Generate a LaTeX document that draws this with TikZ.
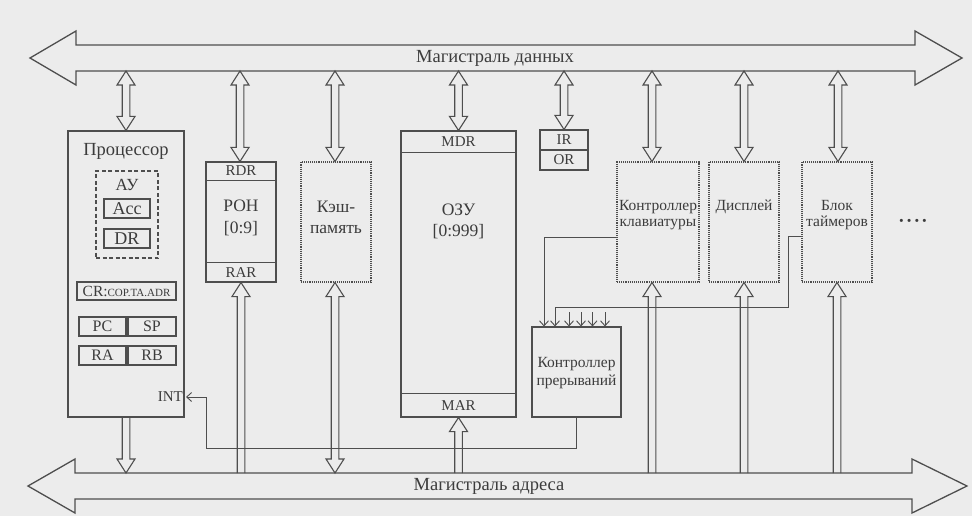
\documentclass[tikz,border=0pt]{standalone}
\usepackage{fontspec}
\setmainfont{Liberation Serif}
\usetikzlibrary{arrows.meta,calc}
\definecolor{bg}{RGB}{236,236,236}
\definecolor{ln}{RGB}{78,78,78}
\definecolor{tx}{RGB}{60,60,60}
\newcommand{\fsz}[2]{\fontsize{#1}{#2}\selectfont}
% hollow vertical arrows: #1 x-reference, #2 upper point, #3 lower point
\newcommand{\arrboth}[3]{\draw[hollow] let \p1=(#1), \p2=(#2), \p3=(#3) in
 (\x1,\y2) -- ({\x1-9pt},{\y2-14pt}) -- ({\x1-3.8pt},{\y2-14pt}) -- ({\x1-3.8pt},{\y3+14pt}) -- ({\x1-9pt},{\y3+14pt}) -- (\x1,\y3)
 -- ({\x1+9pt},{\y3+14pt}) -- ({\x1+3.8pt},{\y3+14pt}) -- ({\x1+3.8pt},{\y2-14pt}) -- ({\x1+9pt},{\y2-14pt}) -- cycle;}
\newcommand{\arrup}[3]{\draw[hollow] let \p1=(#1), \p2=(#2), \p3=(#3) in
 ({\x1-3.8pt},\y3) -- ({\x1-3.8pt},{\y2-14pt}) -- ({\x1-9pt},{\y2-14pt}) -- (\x1,\y2) -- ({\x1+9pt},{\y2-14pt}) -- ({\x1+3.8pt},{\y2-14pt}) -- ({\x1+3.8pt},\y3);}
\newcommand{\arrdown}[3]{\draw[hollow] let \p1=(#1), \p2=(#2), \p3=(#3) in
 ({\x1-3.8pt},\y2) -- ({\x1-3.8pt},{\y3+14pt}) -- ({\x1-9pt},{\y3+14pt}) -- (\x1,\y3) -- ({\x1+9pt},{\y3+14pt}) -- ({\x1+3.8pt},{\y3+14pt}) -- ({\x1+3.8pt},\y2);}
\begin{document}
\begin{tikzpicture}[x=1pt,y=-1pt,
  blk/.style={draw=ln,line width=1.1pt,inner sep=0pt,text=tx},
  dotblk/.style={blk,densely dotted},
  lbl/.style={inner sep=0pt,text=tx,align=center},
  hollow/.style={draw=ln,line width=1.1pt,line join=miter},
  bus/.style={draw=ln,line width=1.3pt,line join=miter},
  divl/.style={draw=ln,line width=1.1pt},
  intl/.style={draw=ln,line width=0.9pt,-{Straight Barb[length=5pt,width=9pt]}}]
\fill[bg] (0,0) rectangle (972,516);
\useasboundingbox (0,0) rectangle (972,516);

% buses
\draw[bus] (30,58) -- (76,31) -- (76,45) -- (915,45) -- (915,31) -- (962,58) -- (915,85) -- (915,71) -- (76,71) -- (76,85) -- cycle;
\node[lbl,font=\fsz{18.5}{20}] (dlabel) at (495,58) {Магистраль данных};
\coordinate (dbus) at (0,71);
\draw[bus] (28,486) -- (75,459) -- (75,473) -- (912,473) -- (912,459) -- (967,486) -- (912,513) -- (912,499) -- (75,499) -- (75,513) -- cycle;
\node[lbl,font=\fsz{18.5}{20}] (alabel) at (489,486) {Магистраль адреса};
\coordinate (abus) at (0,473);

% processor
\node[blk,minimum width=116pt,minimum height=286pt] (proc) at (126,274) {};
\node[lbl,font=\fsz{18.5}{20}] (proct) at (126,151) {Процессор};
\node[blk,dash pattern=on 4pt off 2.5pt,minimum width=62pt,minimum height=87pt] (au) at (127,214.5) {};
\node[lbl,font=\fsz{17}{18}] (aut) at (127,185) {АУ};
\node[blk,minimum width=46pt,minimum height=19pt,font=\fsz{18}{19}] (acc) at (127,208.5) {Acc};
\node[blk,minimum width=46pt,minimum height=19pt,font=\fsz{18}{19}] (dr) at (127,238.5) {DR};
\node[blk,minimum width=99pt,minimum height=18pt,font=\fsz{15.5}{16}] (cr) at (126.5,291) {CR:{\fsz{11}{12}COP.TA.ADR}};
\node[blk,minimum width=47pt,minimum height=19pt,font=\fsz{16}{17}] (pc) at (102.5,326.5) {PC};
\node[blk,minimum width=48pt,minimum height=19pt,font=\fsz{16}{17}] (sp) at (152,326.5) {SP};
\node[blk,minimum width=47pt,minimum height=19pt,font=\fsz{16}{17}] (ra) at (102.5,355.5) {RA};
\node[blk,minimum width=48pt,minimum height=19pt,font=\fsz{16}{17}] (rb) at (152,355.5) {RB};
\node[lbl,font=\fsz{15}{16},anchor=east,inner sep=3pt] (int) at (186,397) {INT};

% general registers
\node[blk,minimum width=70pt,minimum height=120pt] (ron) at (241,222) {};
\draw[divl] ([yshift=-19pt]ron.north west) -- ([yshift=-19pt]ron.north east);
\draw[divl] ([yshift=20pt]ron.south west) -- ([yshift=20pt]ron.south east);
\node[lbl,font=\fsz{15}{16}] (rdr) at ([yshift=-9.5pt]ron.north) {RDR};
\node[lbl,font=\fsz{15}{16}] (rar) at ([yshift=10pt]ron.south) {RAR};
\node[lbl,font=\fsz{17.5}{22}] (ront) at (241,218) {РОН\\{}[0:9]};

% cache
\node[dotblk,minimum width=70pt,minimum height=120pt] (cache) at (336,222) {};
\node[lbl,font=\fsz{17.5}{21}] (cachet) at (336,217.5) {Кэш-\\память};

% RAM
\node[blk,minimum width=115pt,minimum height=286pt] (ozu) at (458.5,274) {};
\draw[divl] ([yshift=-22pt]ozu.north west) -- ([yshift=-22pt]ozu.north east);
\draw[divl] ([yshift=24pt]ozu.south west) -- ([yshift=24pt]ozu.south east);
\node[lbl,font=\fsz{15}{16}] (mdr) at ([yshift=-11pt]ozu.north) {MDR};
\node[lbl,font=\fsz{15}{16}] (mar) at ([yshift=12pt]ozu.south) {MAR};
\node[lbl,font=\fsz{17.5}{21}] (ozut) at (458.5,221.5) {ОЗУ\\{}[0:999]};

% IR / OR
\node[blk,minimum width=48pt,minimum height=20pt,font=\fsz{15}{16}] (ir) at (564,140) {IR};
\node[blk,minimum width=48pt,minimum height=20pt,font=\fsz{15}{16}] (or) at (564,160) {OR};

% peripherals
\node[dotblk,minimum width=82pt,minimum height=120pt] (kbd) at (658,222) {};
\node[lbl,font=\fsz{15.5}{16.5}] (kbdt) at (658,215) {Контроллер\\клавиатуры};
\node[dotblk,minimum width=70pt,minimum height=120pt] (disp) at (744,222) {};
\node[lbl,font=\fsz{15.5}{16.5}] (dispt) at (744,207) {Дисплей};
\node[dotblk,minimum width=70pt,minimum height=120pt] (tim) at (837,222) {};
\node[lbl,font=\fsz{15.5}{16.5}] (timt) at (837,215) {Блок\\таймеров};
\node[lbl,font=\fsz{26}{26}] (dots) at (913,224) {·\kern-1pt·\kern-1pt·\kern-1pt·};

% interrupt controller
\node[blk,minimum width=89pt,minimum height=90pt] (intc) at (576.5,372) {};
\node[lbl,font=\fsz{15.5}{18}] (intct) at (576.5,373) {Контроллер\\прерываний};

% data bus connections
\arrboth{proc.north}{dbus}{proc.north}
\arrboth{[xshift=-1pt]ron.north}{dbus}{ron.north}
\arrboth{[xshift=-1pt]cache.north}{dbus}{cache.north}
\arrboth{ozu.north}{dbus}{ozu.north}
\arrboth{ir.north}{dbus}{ir.north}
\arrboth{[xshift=-6pt]kbd.north}{dbus}{kbd.north}
\arrboth{disp.north}{dbus}{disp.north}
\arrboth{[xshift=1pt]tim.north}{dbus}{tim.north}

% address bus connections
\arrdown{proc.south}{proc.south}{abus}
\arrup{ron.south}{ron.south}{abus}
\arrboth{[xshift=-1pt]cache.south}{cache.south}{abus}
\arrup{ozu.south}{ozu.south}{abus}
\arrup{[xshift=-6pt]kbd.south}{kbd.south}{abus}
\arrup{disp.south}{disp.south}{abus}
\arrup{tim.south}{tim.south}{abus}

% interrupt lines
\draw[intl] ([yshift=-15pt]kbd.west) -| ([xshift=-32.5pt]intc.north);
\draw[intl] ([yshift=-14pt]tim.west) -- ++(-13,0) -- ++(0,71) -| ([xshift=-21.5pt]intc.north);
\foreach \dx in {-7.5,4.5,16,28.5}
  \draw[intl] ([xshift=\dx pt]intc.north) ++(0,-14) -- ++(0,14);
\coordinate (intbend) at (206,448);
\draw[intl] (intc.south) |- (intbend) |- (int.east);
\end{tikzpicture}
\end{document}
